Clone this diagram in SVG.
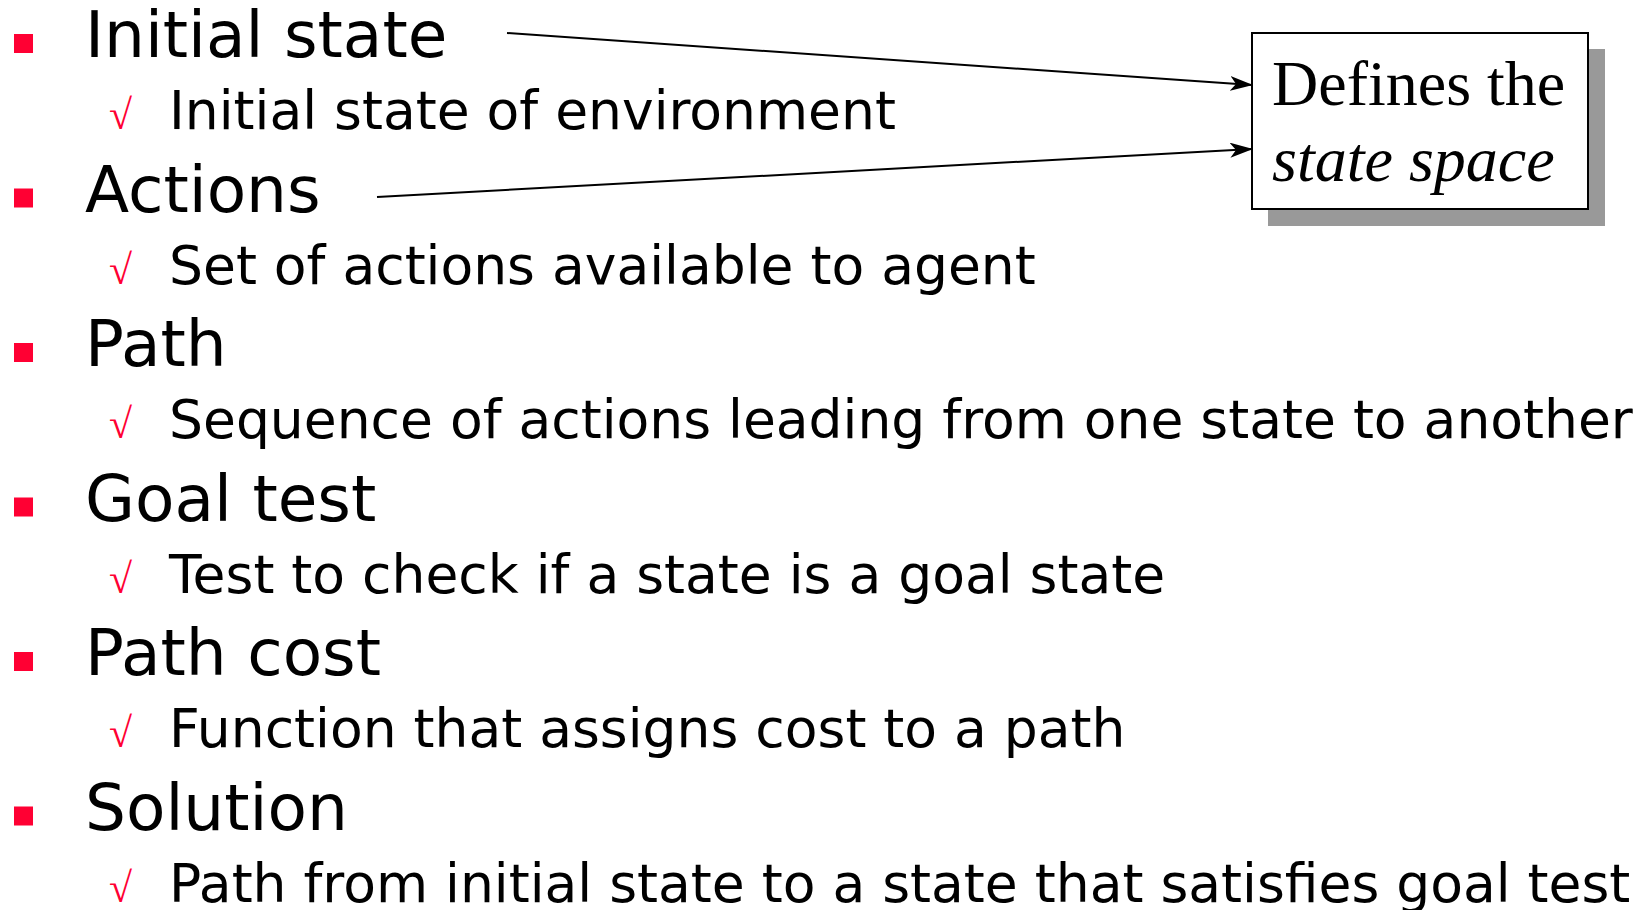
<svg xmlns="http://www.w3.org/2000/svg" width="1652" height="910" viewBox="0 0 1652 910">
<style>
.main{font-family:"DejaVu Sans",Verdana,sans-serif;font-size:64.5px;fill:#000}
.sub{font-family:"DejaVu Sans",Verdana,sans-serif;font-size:53.5px;fill:#000}
.chk{font-family:"Liberation Serif","Times New Roman",serif;font-size:42px;fill:#FF0033}
.sq{fill:#FF0033}
.box{fill:#fff;stroke:#000;stroke-width:2}
.shadow{fill:#999}
.boxt{font-family:"Liberation Serif","Times New Roman",serif;font-size:64px;fill:#000}
.conn{stroke:#000;stroke-width:2;fill:none;marker-end:url(#arr)}
</style>
<defs>
<marker id="arr" markerUnits="userSpaceOnUse" viewBox="0 0 23 15" refX="22" refY="7.5" markerWidth="23" markerHeight="15" orient="auto">
<path d="M0,0 L23,7.5 L0,15 L6,7.5 Z" fill="#000"/>
</marker>
</defs>
<rect width="1652" height="910" fill="#fff"/>
<g id="item-initial-state">
<rect class="sq" x="14" y="34" width="19" height="19"/>
<text class="main" x="85" y="57">Initial state</text>
<text class="chk" x="109" y="129">√</text>
<text class="sub" x="169" y="129">Initial state of environment</text>
</g>
<g id="item-actions">
<rect class="sq" x="14" y="188.5" width="19" height="19"/>
<text class="main" x="85" y="211.5">Actions</text>
<text class="chk" x="109" y="283.5">√</text>
<text class="sub" x="169" y="283.5">Set of actions available to agent</text>
</g>
<g id="item-path">
<rect class="sq" x="14" y="343" width="19" height="19"/>
<text class="main" x="85" y="366">Path</text>
<text class="chk" x="109" y="438">√</text>
<text class="sub" x="169" y="438">Sequence of actions leading from one state to another</text>
</g>
<g id="item-goal-test">
<rect class="sq" x="14" y="497.5" width="19" height="19"/>
<text class="main" x="85" y="520.5">Goal test</text>
<text class="chk" x="109" y="592.5">√</text>
<text class="sub" x="169" y="592.5">Test to check if a state is a goal state</text>
</g>
<g id="item-path-cost">
<rect class="sq" x="14" y="652" width="19" height="19"/>
<text class="main" x="85" y="675">Path cost</text>
<text class="chk" x="109" y="747">√</text>
<text class="sub" x="169" y="747">Function that assigns cost to a path</text>
</g>
<g id="item-solution">
<rect class="sq" x="14" y="806.5" width="19" height="19"/>
<text class="main" x="85" y="829.5">Solution</text>
<text class="chk" x="109" y="901.5">√</text>
<text class="sub" x="169" y="901.5">Path from initial state to a state that satisfies goal test</text>
</g>
<g id="state-space-box">
<rect class="shadow" x="1268" y="49" width="337" height="177"/>
<rect class="box" x="1252" y="33" width="336" height="176"/>
<text class="boxt" x="1272" y="105">Defines the</text>
<text class="boxt" x="1272" y="181" font-style="italic">state space</text>
</g>
<g id="connectors">
<line class="conn" x1="507" y1="33" x2="1252" y2="85"/>
<line class="conn" x1="377" y1="197" x2="1252" y2="149"/>
</g>
</svg>
